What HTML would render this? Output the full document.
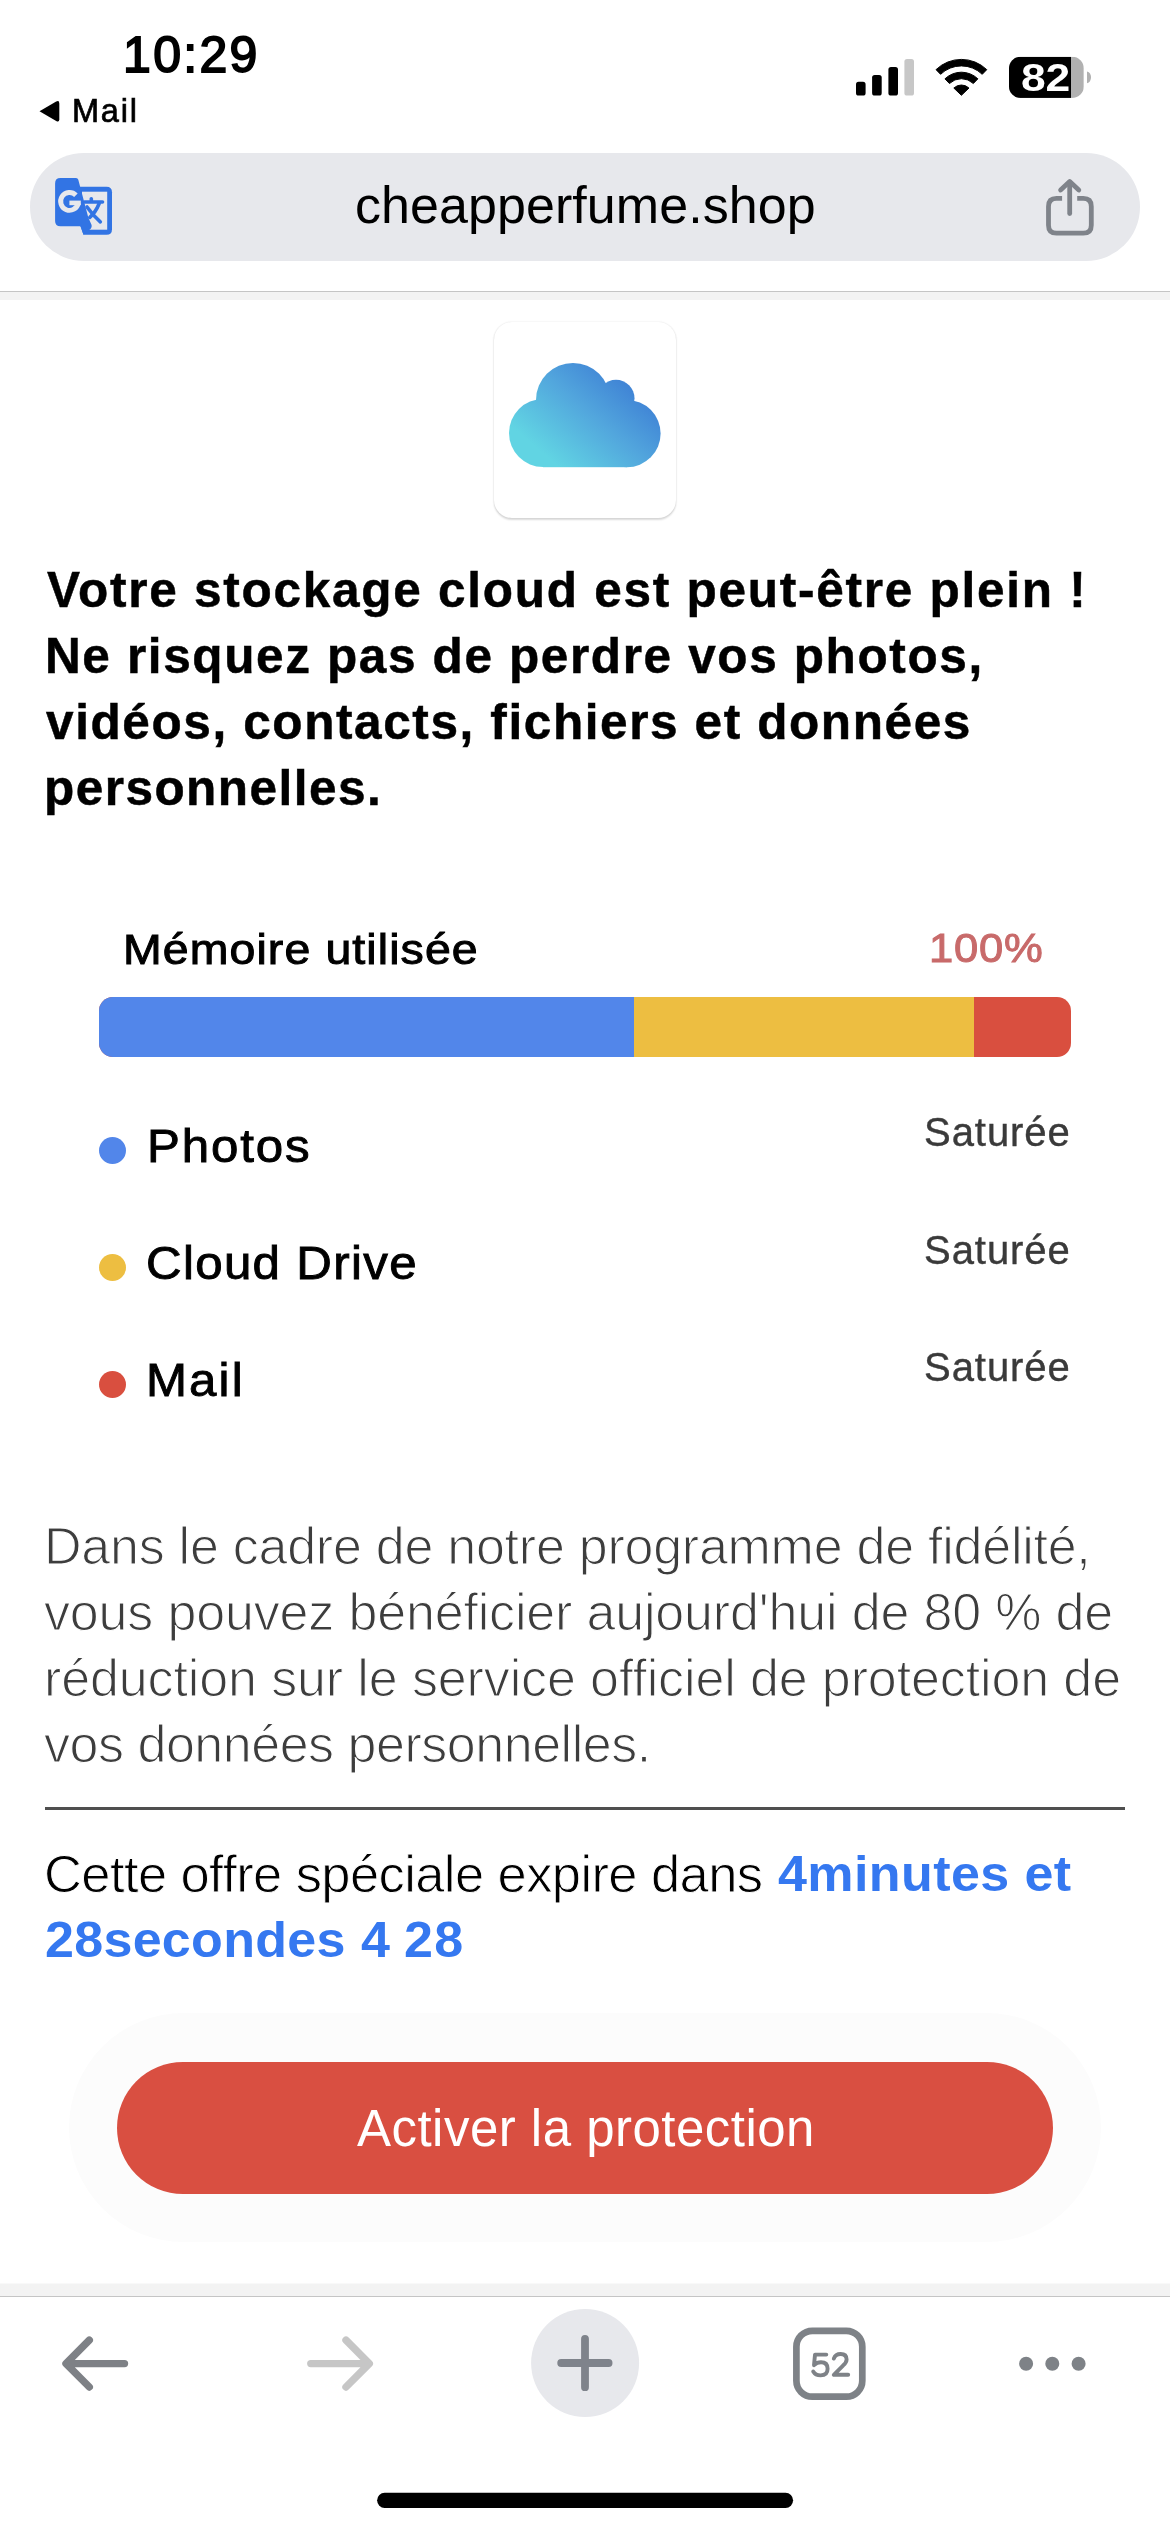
<!DOCTYPE html>
<html><head><meta charset="utf-8">
<style>
*{margin:0;padding:0;box-sizing:border-box}
html,body{width:1170px;height:2532px;background:#fff;overflow:hidden;font-family:"Liberation Sans",sans-serif;color:#000}
.a{position:absolute}
.t{position:absolute;white-space:nowrap;line-height:normal;will-change:transform}
</style></head><body>
<!-- status bar -->
<svg class="a" style="left:0;top:0" width="1170" height="300" viewBox="0 0 1170 300">
<!-- back triangle -->
<path d="M39.5 111.3 L56.2 101.6 Q59.3 100 59.3 103.5 L59.3 119.2 Q59.3 122.7 56.2 121 Z" fill="#000"/>
<!-- signal -->
<rect x="856" y="81.8" width="9.6" height="13.8" rx="2.6" fill="#000"/>
<rect x="872.1" y="74.9" width="9.6" height="20.7" rx="2.6" fill="#000"/>
<rect x="888.4" y="67" width="9.6" height="28.6" rx="2.6" fill="#000"/>
<rect x="904.4" y="59" width="9.6" height="36.6" rx="2.6" fill="#c7c7c7"/>
<!-- wifi: center 961.4,95.9 -->
<g fill="#000" stroke="#000" stroke-width="1" stroke-linejoin="round">
<path d="M961.4 95.30000000000001 L953.83 88.06 A10.9 10.9 0 0 1 968.97 88.06 Z"/>
<path d="M944.94 78.85 A23.7 23.7 0 0 1 977.86 78.85 L973.35 83.53 A17.2 17.2 0 0 0 949.45 83.53 Z"/>
<path d="M936.04 69.64 A36.5 36.5 0 0 1 986.76 69.64 L982.24 74.32 A30.0 30.0 0 0 0 940.56 74.32 Z"/>
</g>
<!-- battery -->
<defs><clipPath id="bc"><rect x="1009" y="56.8" width="74.8" height="41.1" rx="11.5"/></clipPath></defs>
<g clip-path="url(#bc)">
<rect x="1009" y="56.8" width="74.8" height="41.1" fill="#b1b1b1"/>
<rect x="1009" y="56.8" width="62" height="41.1" fill="#000"/>
</g>
<path d="M1087 71.4 Q1091 72.5 1091 77.35 Q1091 82.2 1087 83.3 Z" fill="#b1b1b1"/>

<!-- url bar -->
<rect x="30" y="153" width="1110" height="108" rx="54" fill="#e7e8ec"/>
<!-- translate icon -->
<g transform="translate(50 172)">
<path d="M29.9 14.7 H56.5 Q62 14.7 62 20.2 V57.3 Q62 62.8 56.5 62.8 H33.5 L30.5 54.3 Z" fill="#3274e4"/>
<rect x="32" y="19.7" width="25.2" height="38" fill="#e7e8ec"/>
<path d="M10.5 6 H26 Q27.8 6 28.3 7.8 L38.3 45.5 L41.6 53 Q42.2 56 39.2 57.9 L33.5 62.8 L30.5 54.3 H10.5 Q5.1 54.3 5.1 48.9 V11.4 Q5.1 6 10.5 6 Z" fill="#3274e4"/>
<path d="M25.9 23.2 A8.9 8.9 0 1 0 28.3 31" fill="none" stroke="#e7e8ec" stroke-width="4.9"/>
<rect x="19.4" y="28.6" width="11.4" height="4.6" fill="#e7e8ec"/>
<g stroke="#3274e4" stroke-width="3.6" stroke-linecap="round" fill="none">
<path d="M34.5 30 H52.5"/>
<path d="M41.3 26.8 V29"/>
<path d="M49.2 31.5 Q45.5 40.5 39.8 45.3"/>
<path d="M37 35 Q43.5 44 50.3 49.8"/>
</g>
</g>
<!-- share icon -->
<g fill="none" stroke="#7f838a" stroke-width="4.8" stroke-linecap="round" stroke-linejoin="round">
<path d="M1062.1 198.4 H1056.5 Q1048.5 198.4 1048.5 206.4 V225.2 Q1048.5 233.2 1056.5 233.2 H1083.3 Q1091.3 233.2 1091.3 225.2 V206.4 Q1091.3 198.4 1083.3 198.4 H1077.2" stroke-linecap="butt"/>
<path d="M1069.7 213.5 V182.5"/>
<path d="M1060.6 190 L1069.7 181.5 L1078.8 190"/>
</g>
<!-- separator -->
<rect x="0" y="291" width="1170" height="1" fill="#c5c5c5"/>
<rect x="0" y="292" width="1170" height="8.5" fill="#f3f3f3"/>
</svg>

<!-- cloud card -->
<div class="a" style="left:494px;top:321.5px;width:182px;height:196px;border-radius:18px;background:#fff;box-shadow:0 0 2px rgba(0,0,0,0.10),0 1.5px 2px rgba(0,0,0,0.14)"></div>
<svg class="a" style="left:0;top:300px" width="1170" height="220" viewBox="0 300 1170 220">
<defs><linearGradient id="cg" gradientUnits="userSpaceOnUse" x1="560" y1="468" x2="640" y2="375">
<stop offset="0" stop-color="#61d4e3"/><stop offset="0.5" stop-color="#52a6dd"/><stop offset="1" stop-color="#3a79d3"/></linearGradient></defs>
<g fill="url(#cg)">
<circle cx="543" cy="433" r="34"/>
<circle cx="573" cy="400" r="37"/>
<circle cx="616" cy="398.3" r="18.5"/>
<circle cx="627" cy="433.6" r="33.6"/>
<rect x="543" y="410" width="84" height="57.2"/>
</g>
</svg>

<!-- bar -->
<div class="a" style="left:99px;top:997px;width:972px;height:60px;border-radius:14px;overflow:hidden;background:#d94f3f">
<div style="position:absolute;left:0;top:0;width:535px;height:60px;background:#5286ea"></div>
<div style="position:absolute;left:535px;top:0;width:340px;height:60px;background:#edbe41"></div>
</div>
<!-- legend dots -->
<div class="a" style="left:98.9px;top:1137px;width:27px;height:27px;border-radius:50%;background:#5286ea"></div>
<div class="a" style="left:98.9px;top:1254px;width:27px;height:27px;border-radius:50%;background:#edbe41"></div>
<div class="a" style="left:98.9px;top:1371px;width:27px;height:27px;border-radius:50%;background:#d94f3f"></div>

<!-- divider -->
<div class="a" style="left:45px;top:1807px;width:1080px;height:3px;background:#4f4f4f"></div>

<!-- button -->
<div class="a" style="left:69px;top:2013px;width:1032px;height:229px;border-radius:115px;background:#fcfcfc"></div>
<div class="a" style="left:117px;top:2062px;width:936px;height:132px;border-radius:66px;background:#d94f41"></div>

<!-- bottom toolbar -->
<svg class="a" style="left:0;top:2270px" width="1170" height="262" viewBox="0 2270 1170 262">
<rect x="0" y="2283.5" width="1170" height="12.5" fill="#f3f3f3"/>
<rect x="0" y="2296" width="1170" height="1" fill="#c5c5c5"/>
<g fill="none" stroke-width="7.4" stroke-linecap="round" stroke-linejoin="round">
<path d="M124.5 2363.6 H66.5 M89.3 2340.2 L66 2363.6 L89.3 2387" stroke="#7e8186"/>
<path d="M310.8 2363.6 H368.8 M346 2340.2 L369.3 2363.6 L346 2387" stroke="#c6c6c6"/>
</g>
<circle cx="585.1" cy="2363" r="54" fill="#e7e8ec"/>
<path d="M585 2338.8 V2387.2 M561.2 2363 H608.6" stroke="#7f838b" stroke-width="7.8" stroke-linecap="round"/>
<rect x="796.4" y="2330.8" width="65.9" height="65.9" rx="16" fill="none" stroke="#7e8287" stroke-width="6.7"/>
<g fill="none" stroke="#7e8287" stroke-width="3.9" stroke-linecap="round" stroke-linejoin="round">
<path d="M826.3 2354.6 H815 L814 2365.2 Q817 2362.3 821 2362.3 Q827.6 2362.3 827.6 2368.8 Q827.6 2375.4 820.6 2375.4 Q815.5 2375.4 813.2 2371.5"/>
<path d="M833.8 2358.6 Q835.5 2354 840.6 2354 Q846.6 2354 846.6 2359.5 Q846.6 2362.5 843 2365.6 L833.8 2374.8 H848.2"/>
</g>
<circle cx="1026.1" cy="2363.8" r="7" fill="#7e8287"/>
<circle cx="1052.3" cy="2363.8" r="7" fill="#7e8287"/>
<circle cx="1078.6" cy="2363.8" r="7" fill="#7e8287"/>
<rect x="377.1" y="2492.8" width="416" height="15.1" rx="7.55" fill="#000"/>
</svg>

<div class="t" id="time" style="left:122.88px;top:26.10px;font-size:50px;font-weight:normal;color:#000;letter-spacing:2.323px;-webkit-text-stroke:1.8px #000;">10:29</div>
<div class="t" id="mail" style="left:71.81px;top:93.33px;font-size:32.5px;font-weight:normal;color:#000;letter-spacing:1.799px;-webkit-text-stroke:0.7px #000;">Mail</div>
<div class="t" id="bat" style="left:1021.36px;top:56.00px;font-size:39px;font-weight:bold;color:#fff;letter-spacing:-0.222px;transform:scaleX(1.14);transform-origin:0 0;">82</div>
<div class="t" id="url" style="left:355.30px;top:175.40px;font-size:52px;font-weight:normal;color:#000;letter-spacing:0.058px;">cheapperfume.shop</div>
<div class="t" id="h1" style="left:47.19px;top:560.99px;font-size:49.5px;font-weight:bold;color:#000;letter-spacing:1.741px;-webkit-text-stroke:0.5px #000;">Votre stockage cloud est peut-être plein !</div>
<div class="t" id="h2" style="left:44.62px;top:626.99px;font-size:49.5px;font-weight:bold;color:#000;letter-spacing:1.627px;-webkit-text-stroke:0.5px #000;">Ne risquez pas de perdre vos photos,</div>
<div class="t" id="h3" style="left:45.86px;top:692.99px;font-size:49.5px;font-weight:bold;color:#000;letter-spacing:1.606px;-webkit-text-stroke:0.5px #000;">vidéos, contacts, fichiers et données</div>
<div class="t" id="h4" style="left:44.38px;top:758.99px;font-size:49.5px;font-weight:bold;color:#000;letter-spacing:1.462px;-webkit-text-stroke:0.5px #000;">personnelles.</div>
<div class="t" id="mem" style="left:123.20px;top:925.13px;font-size:43px;font-weight:normal;color:#000;letter-spacing:1.023px;-webkit-text-stroke:1.0px #000;transform:scaleX(1.08);transform-origin:0 0;">Mémoire utilisée</div>
<div class="t" id="pct" style="left:929.30px;top:923.53px;font-size:41.5px;font-weight:normal;color:#c86a6a;letter-spacing:0.745px;-webkit-text-stroke:1.0px #c86a6a;transform:scaleX(1.05);transform-origin:0 0;">100%</div>
<div class="t" id="ph" style="left:146.79px;top:1119.38px;font-size:46px;font-weight:normal;color:#000;letter-spacing:1.758px;-webkit-text-stroke:0.9px #000;transform:scaleX(1.07);transform-origin:0 0;">Photos</div>
<div class="t" id="cd" style="left:145.87px;top:1235.78px;font-size:46px;font-weight:normal;color:#000;letter-spacing:1.253px;-webkit-text-stroke:0.9px #000;transform:scaleX(1.07);transform-origin:0 0;">Cloud Drive</div>
<div class="t" id="ml" style="left:146.17px;top:1353.38px;font-size:46px;font-weight:normal;color:#000;letter-spacing:1.979px;-webkit-text-stroke:0.9px #000;transform:scaleX(1.07);transform-origin:0 0;">Mail</div>
<div class="t" id="s1" style="left:924.43px;top:1110.40px;font-size:40px;font-weight:normal;color:#3a3a3a;letter-spacing:0.949px;-webkit-text-stroke:0.4px #3a3a3a;">Saturée</div>
<div class="t" id="s2" style="left:924.43px;top:1228.00px;font-size:40px;font-weight:normal;color:#3a3a3a;letter-spacing:0.949px;-webkit-text-stroke:0.4px #3a3a3a;">Saturée</div>
<div class="t" id="s3" style="left:924.43px;top:1344.60px;font-size:40px;font-weight:normal;color:#3a3a3a;letter-spacing:0.949px;-webkit-text-stroke:0.4px #3a3a3a;">Saturée</div>
<div class="t" id="p1" style="left:44.11px;top:1515.77px;font-size:52px;font-weight:normal;color:#3d3d3d;letter-spacing:-0.252px;-webkit-text-stroke:1.2px #fff;">Dans le cadre de notre programme de fidélité,</div>
<div class="t" id="p2" style="left:44.31px;top:1581.77px;font-size:52px;font-weight:normal;color:#3d3d3d;letter-spacing:-0.169px;-webkit-text-stroke:1.2px #fff;">vous pouvez bénéficier aujourd'hui de 80 % de</div>
<div class="t" id="p3" style="left:44.00px;top:1647.77px;font-size:52px;font-weight:normal;color:#3d3d3d;letter-spacing:-0.120px;-webkit-text-stroke:1.2px #fff;">réduction sur le service officiel de protection de</div>
<div class="t" id="p4" style="left:44.31px;top:1713.77px;font-size:52px;font-weight:normal;color:#3d3d3d;letter-spacing:-0.480px;-webkit-text-stroke:1.2px #fff;">vos données personnelles.</div>
<div class="t" id="o1" style="left:44.11px;top:1842.86px;font-size:52.5px;font-weight:normal;color:#000;letter-spacing:-0.592px;-webkit-text-stroke:0.9px #fff;">Cette offre spéciale expire dans</div>
<div class="t" id="o2" style="left:777.70px;top:1844.20px;font-size:50.5px;font-weight:bold;color:#3578f0;letter-spacing:0.386px;transform:scaleX(1.03);transform-origin:0 0;">4minutes et</div>
<div class="t" id="o3" style="left:44.69px;top:1910.00px;font-size:50.5px;font-weight:bold;color:#3578f0;letter-spacing:0.280px;transform:scaleX(1.03);transform-origin:0 0;">28secondes</div>
<div class="t" id="o4" style="left:360.60px;top:1910.00px;font-size:50.5px;font-weight:bold;color:#3578f0;letter-spacing:0.000px;transform:scaleX(1.03);transform-origin:0 0;">4</div>
<div class="t" id="o5" style="left:404.42px;top:1910.00px;font-size:50.5px;font-weight:bold;color:#3578f0;letter-spacing:1.209px;transform:scaleX(1.03);transform-origin:0 0;">28</div>
<div class="t" id="btn" style="left:356.85px;top:2099.00px;font-size:51px;font-weight:normal;color:#fff;letter-spacing:0.478px;">Activer la protection</div>
</body></html>
